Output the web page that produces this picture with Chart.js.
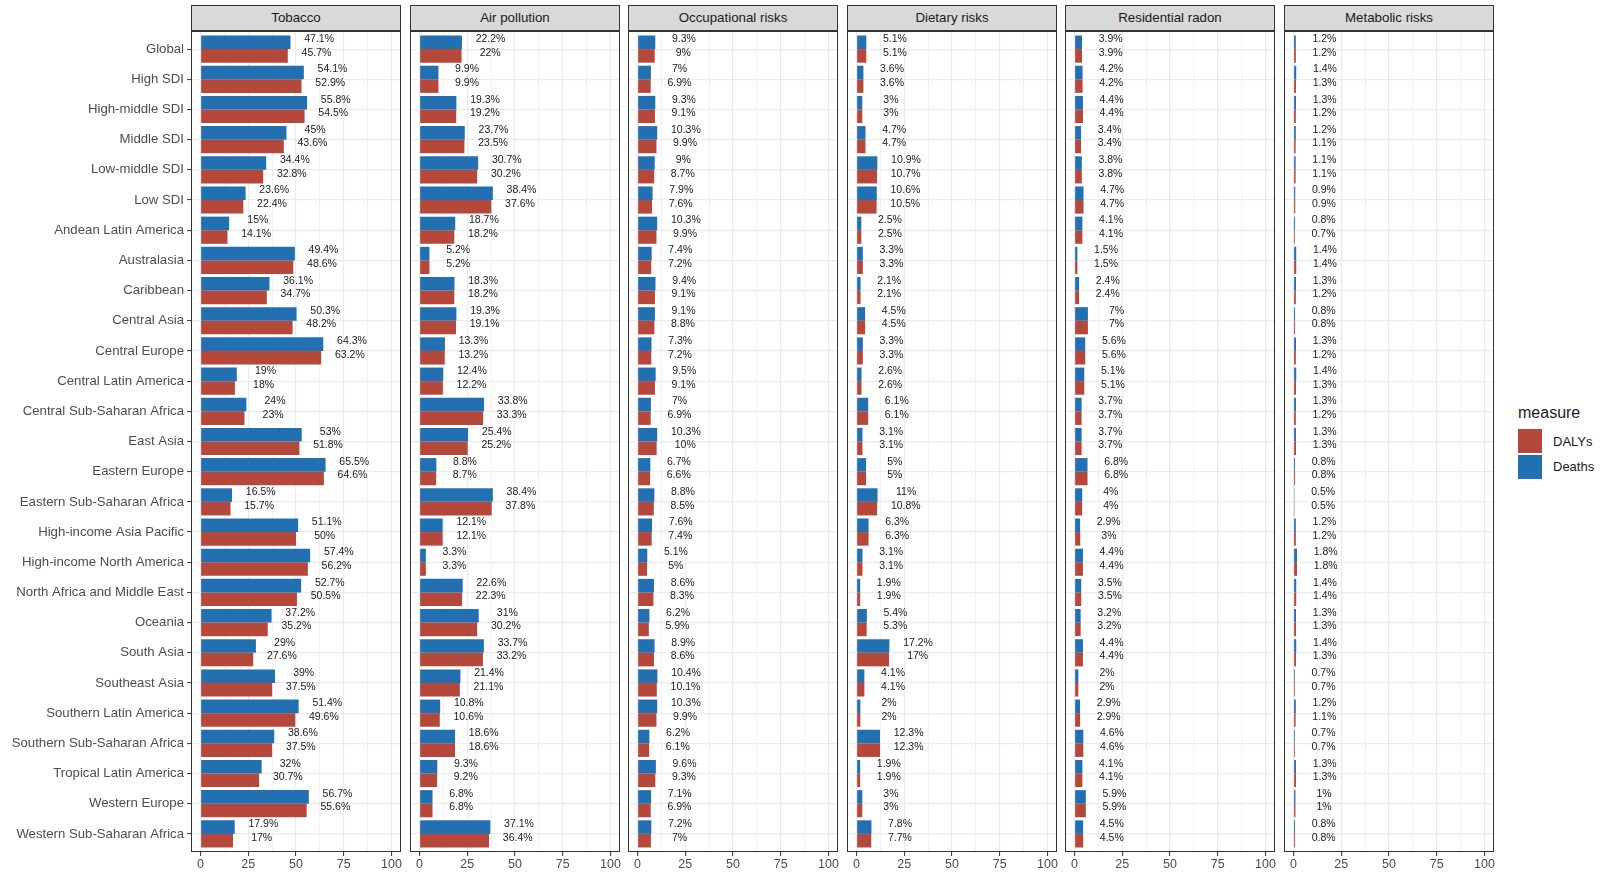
<!DOCTYPE html>
<html>
<head>
<meta charset="utf-8">
<title>Attributable burden by risk and region</title>
<script src="https://cdn.jsdelivr.net/npm/chart.js@4.4.1/dist/chart.umd.min.js"></script>
<style>
    body { margin: 0; background: #fff; font-family: "Liberation Sans", Arial, sans-serif; }
    #page { position: relative; width: 1602px; height: 875px; overflow: hidden; background: #fff; }
    #page canvas { position: absolute; }
    .strip {
        position: absolute; top: 5px; height: 26px; box-sizing: border-box;
        background: #d9d9d9; border: 1px solid #333;
        font-size: 13.3px; line-height: 24px; color: #1a1a1a; text-align: center;
    }
    .legend-title { position: absolute; left: 1518px; top: 402px; font-size: 16px; line-height: 22px; color: #1a1a1a; }
    .legend-key { position: absolute; left: 1518px; width: 24px; height: 24px; }
    .legend-label { position: absolute; left: 1553px; font-size: 13px; line-height: 16px; color: #1a1a1a; }
</style>
</head>
<body>
<div id="page">
    <div class="legend-title">measure</div>
    <div class="legend-key" style="top:429px;background:#b5473b"></div>
    <div class="legend-key" style="top:455px;background:#2270b1"></div>
    <div class="legend-label" style="top:434px">DALYs</div>
    <div class="legend-label" style="top:459px">Deaths</div>
</div>
<script>
const regions = [
    'Global', 'High SDI', 'High-middle SDI', 'Middle SDI', 'Low-middle SDI', 'Low SDI',
    'Andean Latin America', 'Australasia', 'Caribbean', 'Central Asia', 'Central Europe',
    'Central Latin America', 'Central Sub-Saharan Africa', 'East Asia', 'Eastern Europe',
    'Eastern Sub-Saharan Africa', 'High-income Asia Pacific', 'High-income North America',
    'North Africa and Middle East', 'Oceania', 'South Asia', 'Southeast Asia',
    'Southern Latin America', 'Southern Sub-Saharan Africa', 'Tropical Latin America',
    'Western Europe', 'Western Sub-Saharan Africa'
];

const risks = ['Tobacco', 'Air pollution', 'Occupational risks', 'Dietary risks', 'Residential radon', 'Metabolic risks'];

const tobaccoDeaths = [47.1, 54.1, 55.8, 45, 34.4, 23.6, 15, 49.4, 36.1, 50.3, 64.3, 19, 24, 53, 65.5, 16.5, 51.1, 57.4, 52.7, 37.2, 29, 39, 51.4, 38.6, 32, 56.7, 17.9];
const tobaccoDalys  = [45.7, 52.9, 54.5, 43.6, 32.8, 22.4, 14.1, 48.6, 34.7, 48.2, 63.2, 18, 23, 51.8, 64.6, 15.7, 50, 56.2, 50.5, 35.2, 27.6, 37.5, 49.6, 37.5, 30.7, 55.6, 17];

const airDeaths = [22.2, 9.9, 19.3, 23.7, 30.7, 38.4, 18.7, 5.2, 18.3, 19.3, 13.3, 12.4, 33.8, 25.4, 8.8, 38.4, 12.1, 3.3, 22.6, 31, 33.7, 21.4, 10.8, 18.6, 9.3, 6.8, 37.1];
const airDalys  = [22, 9.9, 19.2, 23.5, 30.2, 37.6, 18.2, 5.2, 18.2, 19.1, 13.2, 12.2, 33.3, 25.2, 8.7, 37.8, 12.1, 3.3, 22.3, 30.2, 33.2, 21.1, 10.6, 18.6, 9.2, 6.8, 36.4];

const occupationalDeaths = [9.3, 7, 9.3, 10.3, 9, 7.9, 10.3, 7.4, 9.4, 9.1, 7.3, 9.5, 7, 10.3, 6.7, 8.8, 7.6, 5.1, 8.6, 6.2, 8.9, 10.4, 10.3, 6.2, 9.6, 7.1, 7.2];
const occupationalDalys  = [9, 6.9, 9.1, 9.9, 8.7, 7.6, 9.9, 7.2, 9.1, 8.8, 7.2, 9.1, 6.9, 10, 6.6, 8.5, 7.4, 5, 8.3, 5.9, 8.6, 10.1, 9.9, 6.1, 9.3, 6.9, 7];

const dietaryDeaths = [5.1, 3.6, 3, 4.7, 10.9, 10.6, 2.5, 3.3, 2.1, 4.5, 3.3, 2.6, 6.1, 3.1, 5, 11, 6.3, 3.1, 1.9, 5.4, 17.2, 4.1, 2, 12.3, 1.9, 3, 7.8];
const dietaryDalys  = [5.1, 3.6, 3, 4.7, 10.7, 10.5, 2.5, 3.3, 2.1, 4.5, 3.3, 2.6, 6.1, 3.1, 5, 10.8, 6.3, 3.1, 1.9, 5.3, 17, 4.1, 2, 12.3, 1.9, 3, 7.7];

const radonDeaths = [3.9, 4.2, 4.4, 3.4, 3.8, 4.7, 4.1, 1.5, 2.4, 7, 5.6, 5.1, 3.7, 3.7, 6.8, 4, 2.9, 4.4, 3.5, 3.2, 4.4, 2, 2.9, 4.6, 4.1, 5.9, 4.5];
const radonDalys  = [3.9, 4.2, 4.4, 3.4, 3.8, 4.7, 4.1, 1.5, 2.4, 7, 5.6, 5.1, 3.7, 3.7, 6.8, 4, 3, 4.4, 3.5, 3.2, 4.4, 2, 2.9, 4.6, 4.1, 5.9, 4.5];

const metabolicDeaths = [1.2, 1.4, 1.3, 1.2, 1.1, 0.9, 0.8, 1.4, 1.3, 0.8, 1.3, 1.4, 1.3, 1.3, 0.8, 0.5, 1.2, 1.8, 1.4, 1.3, 1.4, 0.7, 1.2, 0.7, 1.3, 1, 0.8];
const metabolicDalys  = [1.2, 1.3, 1.2, 1.1, 1.1, 0.9, 0.7, 1.4, 1.2, 0.8, 1.2, 1.3, 1.2, 1.3, 0.8, 0.5, 1.2, 1.8, 1.4, 1.3, 1.3, 0.7, 1.1, 0.7, 1.3, 1, 0.8];

const deathsByRisk = [tobaccoDeaths, airDeaths, occupationalDeaths, dietaryDeaths, radonDeaths, metabolicDeaths];
const dalysByRisk = [tobaccoDalys, airDalys, occupationalDalys, dietaryDalys, radonDalys, metabolicDalys];

const xTickValues = [0, 25, 50, 75, 100];
const xMinorValues = [12.5, 37.5, 62.5, 87.5];

const DEATHS_COLOR = '#2270b1';
const DALYS_COLOR = '#b5473b';

// panel geometry (page pixels)
const PANEL_LEFT = 191;
const PANEL_STEP = 218.5;
const PANEL_W = 210;
const PLOT_TOP = 31;
const PLOT_BOTTOM = 852;
const CANVAS_TOP = 16;
const SIDE_PAD = 10;

Chart.defaults.font.family = '"Liberation Sans", Arial, sans-serif';

// box round each panel, like ggplot's panel.border
const panelBorder = {
    id: 'panelBorder',
    afterDatasetsDraw(chart) {
        const { ctx, chartArea: a } = chart;
        ctx.save();
        ctx.strokeStyle = '#333';
        ctx.lineWidth = 1;
        ctx.strokeRect(Math.round(a.left) + 0.5, Math.round(a.top) + 0.5,
            Math.round(a.right - a.left) - 1, Math.round(a.bottom - a.top) - 1);
        ctx.restore();
    }
};

// percentage text next to each bar
const valueLabels = {
    id: 'valueLabels',
    afterDatasetsDraw(chart) {
        const { ctx } = chart;
        const xScale = chart.scales.x;
        ctx.save();
        ctx.font = '10.5px "Liberation Sans", Arial, sans-serif';
        ctx.fillStyle = '#1a1a1a';
        ctx.textAlign = 'center';
        ctx.textBaseline = 'middle';
        chart.data.datasets.forEach((ds, d) => {
            const meta = chart.getDatasetMeta(d);
            meta.data.forEach((bar, i) => {
                const v = ds.data[i].x;
                const x = xScale.getPixelForValue(v + 15);
                ctx.fillText(v + '%', x, bar.y - 3);
            });
        });
        ctx.restore();
    }
};

const page = document.getElementById('page');

risks.forEach((risk, p) => {
    const left = Math.round(PANEL_LEFT + p * PANEL_STEP);
    const first = p === 0;

    const strip = document.createElement('div');
    strip.className = 'strip';
    strip.style.left = left + 'px';
    strip.style.width = PANEL_W + 'px';
    strip.textContent = risk;
    page.appendChild(strip);

    const canvas = document.createElement('canvas');
    const canvasLeft = first ? 0 : left - SIDE_PAD;
    const canvasWidth = first ? left + PANEL_W + SIDE_PAD : PANEL_W + 2 * SIDE_PAD;
    canvas.width = canvasWidth;
    canvas.height = 875 - CANVAS_TOP;
    canvas.style.left = canvasLeft + 'px';
    canvas.style.top = CANVAS_TOP + 'px';
    canvas.style.width = canvasWidth + 'px';
    canvas.style.height = (875 - CANVAS_TOP) + 'px';
    page.appendChild(canvas);

    new Chart(canvas.getContext('2d'), {
        type: 'bar',
        data: {
            datasets: [
                {
                    label: 'Deaths',
                    data: deathsByRisk[p].map((v, i) => ({ x: v, y: i })),
                    backgroundColor: DEATHS_COLOR,
                    categoryPercentage: 0.9,
                    barPercentage: 1
                },
                {
                    label: 'DALYs',
                    data: dalysByRisk[p].map((v, i) => ({ x: v, y: i })),
                    backgroundColor: DALYS_COLOR,
                    categoryPercentage: 0.9,
                    barPercentage: 1
                }
            ]
        },
        options: {
            indexAxis: 'y',
            responsive: false,
            animation: false,
            devicePixelRatio: 1,
            layout: {
                padding: { left: first ? 0 : SIDE_PAD, right: SIDE_PAD, top: PLOT_TOP - CANVAS_TOP, bottom: 0 }
            },
            plugins: { legend: { display: false }, tooltip: { enabled: false } },
            scales: {
                x: {
                    type: 'linear',
                    min: -5,
                    max: 105,
                    afterBuildTicks: scale => {
                        scale.ticks = [...xTickValues, ...xMinorValues].sort((a, b) => a - b).map(v => ({ value: v }));
                    },
                    afterFit: scale => { scale.height = 875 - PLOT_BOTTOM; },
                    border: { display: false },
                    grid: {
                        color: '#ebebeb',
                        lineWidth: c => (c.tick && c.tick.value % 25 === 0 ? 1.2 : 0.7),
                        tickColor: c => (c.tick && c.tick.value % 25 === 0 ? '#333' : 'rgba(0,0,0,0)'),
                        tickLength: 4,
                        tickWidth: 1
                    },
                    ticks: {
                        autoSkip: false,
                        maxRotation: 0,
                        padding: 1,
                        color: '#4d4d4d',
                        font: { size: 12.5 },
                        callback: v => (v % 25 === 0 ? String(v) : '')
                    }
                },
                y: {
                    type: 'linear',
                    reverse: true,
                    offset: false,
                    min: -0.6,
                    max: 26.6,
                    afterBuildTicks: scale => {
                        scale.ticks = regions.map((r, i) => ({ value: i }));
                    },
                    afterFit: scale => { scale.width = first ? left : 0; },
                    border: { display: false },
                    grid: {
                        offset: false,
                        color: '#ebebeb',
                        lineWidth: 1.2,
                        drawTicks: first,
                        tickColor: '#333',
                        tickLength: 4,
                        tickWidth: 1
                    },
                    ticks: {
                        display: first,
                        autoSkip: false,
                        padding: 3,
                        color: '#4d4d4d',
                        font: { size: 13.2 },
                        callback: v => regions[v] ?? ''
                    }
                }
            }
        },
        plugins: [panelBorder, valueLabels]
    });
});
</script>
</body>
</html>
